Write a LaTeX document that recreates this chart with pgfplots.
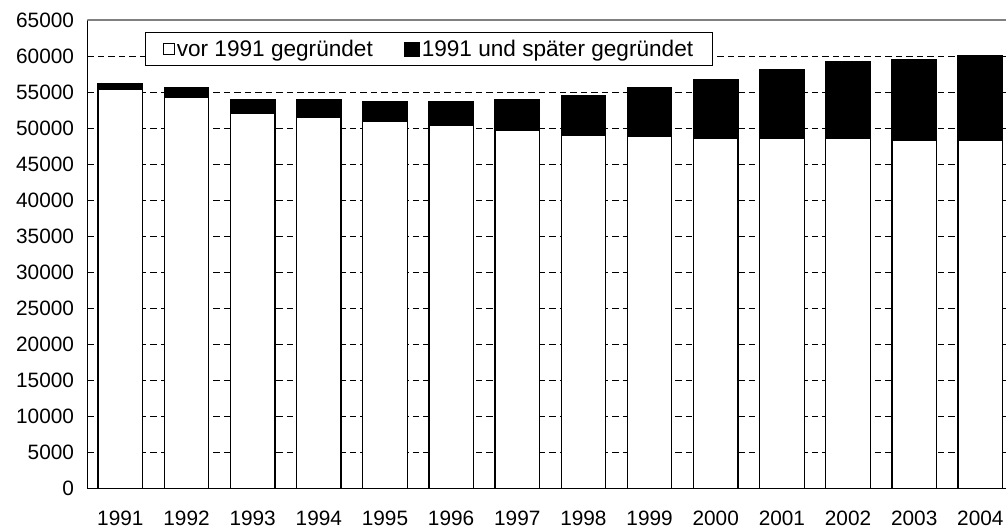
\documentclass[border=0pt]{standalone}
\usepackage{pgfplots}
\pgfplotsset{compat=1.18}
\usepackage{pgfplotstable}
\usepackage{fontspec}
\setmainfont{Liberation Sans}

% Jahr, vor 1991 gegruendet, 1991 und spaeter gegruendet
\pgfplotstableread{
x  alt    neu
0  55390  780
1  54330  1280
2  52070  1840
3  51510  2400
4  50960  2710
5  50410  3260
6  49620  4290
7  49030  5480
8  48790  6820
9  48510  8170
10 48510  9560
11 48510  10700
12 48240  11250
13 48240  11860
}\daten

\begin{document}
\begin{tikzpicture}
  \begin{axis}[
      scale only axis,
      width=918.7bp, height=468.3bp,
      ybar stacked,
      bar width=0.673,
      xmin=-0.5, xmax=13.388,
      ymin=0, ymax=65000,
      xtick=data,
      xticklabels={1991,1992,1993,1994,1995,1996,1997,1998,1999,2000,2001,2002,2003,2004},
      ytick={0,5000,...,65000},
      scaled y ticks=false,
      major tick length=0pt,
      axis lines*=left,
      axis line style={black, line width=1.2bp},
      ymajorgrids=true,
      grid style={black, line width=0.9bp, dash pattern=on 6.5bp off 4bp},
      tick label style={font=\fontsize{20.8bp}{24bp}\selectfont},
      yticklabel style={xshift=-9.8bp,
        /pgf/number format/assume math mode=true,
        /pgf/number format/1000 sep={}},
      xticklabel style={yshift=-19bp},
      legend columns=2,
      legend style={at={(0.0628,0.974)}, anchor=north west,
        draw=black, line width=0.9bp, fill=white,
        inner xsep=18bp, inner ysep=6bp,
        font=\fontsize{22.6bp}{27bp}\selectfont,
        nodes={inner sep=1.5bp},
        /tikz/every even column/.append style={column sep=30bp}},
    ]
    \addplot[fill=white, draw=black, line width=1.3bp,
      legend image code/.code={\draw[fill=white, draw=black, line width=0.9bp] (0bp,-5.5bp) rectangle (11bp,5.5bp);}]
      table[x=x, y=alt] {\daten};
    \addlegendentry{vor 1991 gegründet}
    \addplot[fill=black, draw=black, line width=1.3bp,
      legend image code/.code={\draw[fill=black, draw=black, line width=0.9bp] (0bp,-7bp) rectangle (15bp,7bp);}]
      table[x=x, y=neu] {\daten};
    \addlegendentry{1991 und später gegründet}
    \draw[gray, line width=1.4bp] (rel axis cs:0,1) -- (rel axis cs:1,1);
    \coordinate (bl) at (rel axis cs:0,0);
    \coordinate (tr) at (rel axis cs:1,1);
  \end{axis}
  \pgfresetboundingbox
  \path ([xshift=-87.3bp,yshift=-39.7bp]bl) rectangle ([yshift=20bp]tr);
\end{tikzpicture}
\end{document}
